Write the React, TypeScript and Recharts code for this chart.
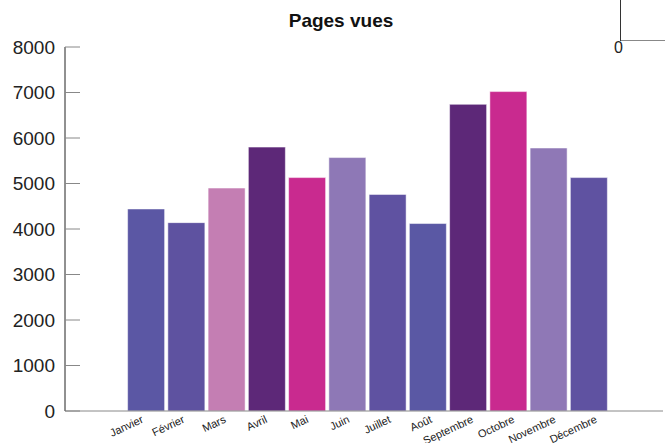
import { BarChart, Bar, XAxis, YAxis, Cell } from 'recharts'

const months = ['Janvier', 'Février', 'Mars', 'Avril', 'Mai', 'Juin', 'Juillet', 'Août', 'Septembre', 'Octobre', 'Novembre', 'Décembre']
const views = [4440, 4140, 4900, 5800, 5130, 5570, 4760, 4120, 6740, 7020, 5780, 5130]
const barColors = ['#5B57A4', '#5E52A0', '#C47EB3', '#5D2878', '#C92A8F', '#8E78B6', '#5F52A1', '#5A58A4', '#5D2878', '#C92A8F', '#8F78B6', '#5F52A1']
const yTicks = [0, 1000, 2000, 3000, 4000, 5000, 6000, 7000, 8000]

const data = months.map((m, i) => ({ month: m, views: views[i] }))

const FONT = '"Liberation Sans", Arial, Helvetica, sans-serif'

// month labels slanted like the original, drifting slightly right along the axis
function MonthTick(props: any) {
  const { x, y, payload, index } = props
  const dx = -2 + (index ?? 0) * 1.0
  return (
    <g transform={`translate(${x + dx},${y + 3})`}>
      <text transform="rotate(-25)" textAnchor="end" fontSize={11} fill="#222" fontFamily={FONT}>
        {payload.value}
      </text>
    </g>
  )
}

export default function App() {
  return (
    <div style={{ position: 'fixed', left: 0, top: 0, width: 665, height: 443, background: '#fff', fontFamily: FONT }}>
      <div
        style={{
          position: 'absolute', left: 0, width: 682, top: 10, textAlign: 'center',
          fontSize: 19, fontWeight: 'bold', color: '#111',
        }}
      >
        Pages vues
      </div>
      {/* stray axis corner at top right */}
      <div style={{ position: 'absolute', left: 620, top: 0, width: 1, height: 41, background: '#333' }} />
      <div style={{ position: 'absolute', left: 621, top: 40, width: 44, height: 1, background: '#888' }} />
      <div style={{ position: 'absolute', left: 614, top: 39, fontSize: 16, color: '#222' }}>0</div>
      <BarChart
        width={665}
        height={443}
        data={data}
        margin={{ top: 47, right: 2, bottom: 0, left: 0 }}
        barCategoryGap="4%"
      >
        <XAxis
          dataKey="month"
          interval={0}
          padding={{ left: 61, right: 54 }}
          tickLine={false}
          axisLine={{ stroke: '#888' }}
          tick={<MonthTick />}
          height={32}
        />
        <YAxis
          width={65}
          domain={[0, 8000]}
          ticks={yTicks}
          interval={0}
          tickSize={-15}
          tickMargin={25}
          tickLine={{ stroke: '#888' }}
          axisLine={{ stroke: '#222' }}
          tick={{ fontSize: 19, fill: '#222', fontFamily: FONT }}
        />
        <Bar dataKey="views" isAnimationActive={false} stroke="#ffffff" strokeOpacity={0.5} strokeWidth={1}>
          {data.map((d, i) => (
            <Cell key={d.month} fill={barColors[i]} />
          ))}
        </Bar>
      </BarChart>
    </div>
  )
}
